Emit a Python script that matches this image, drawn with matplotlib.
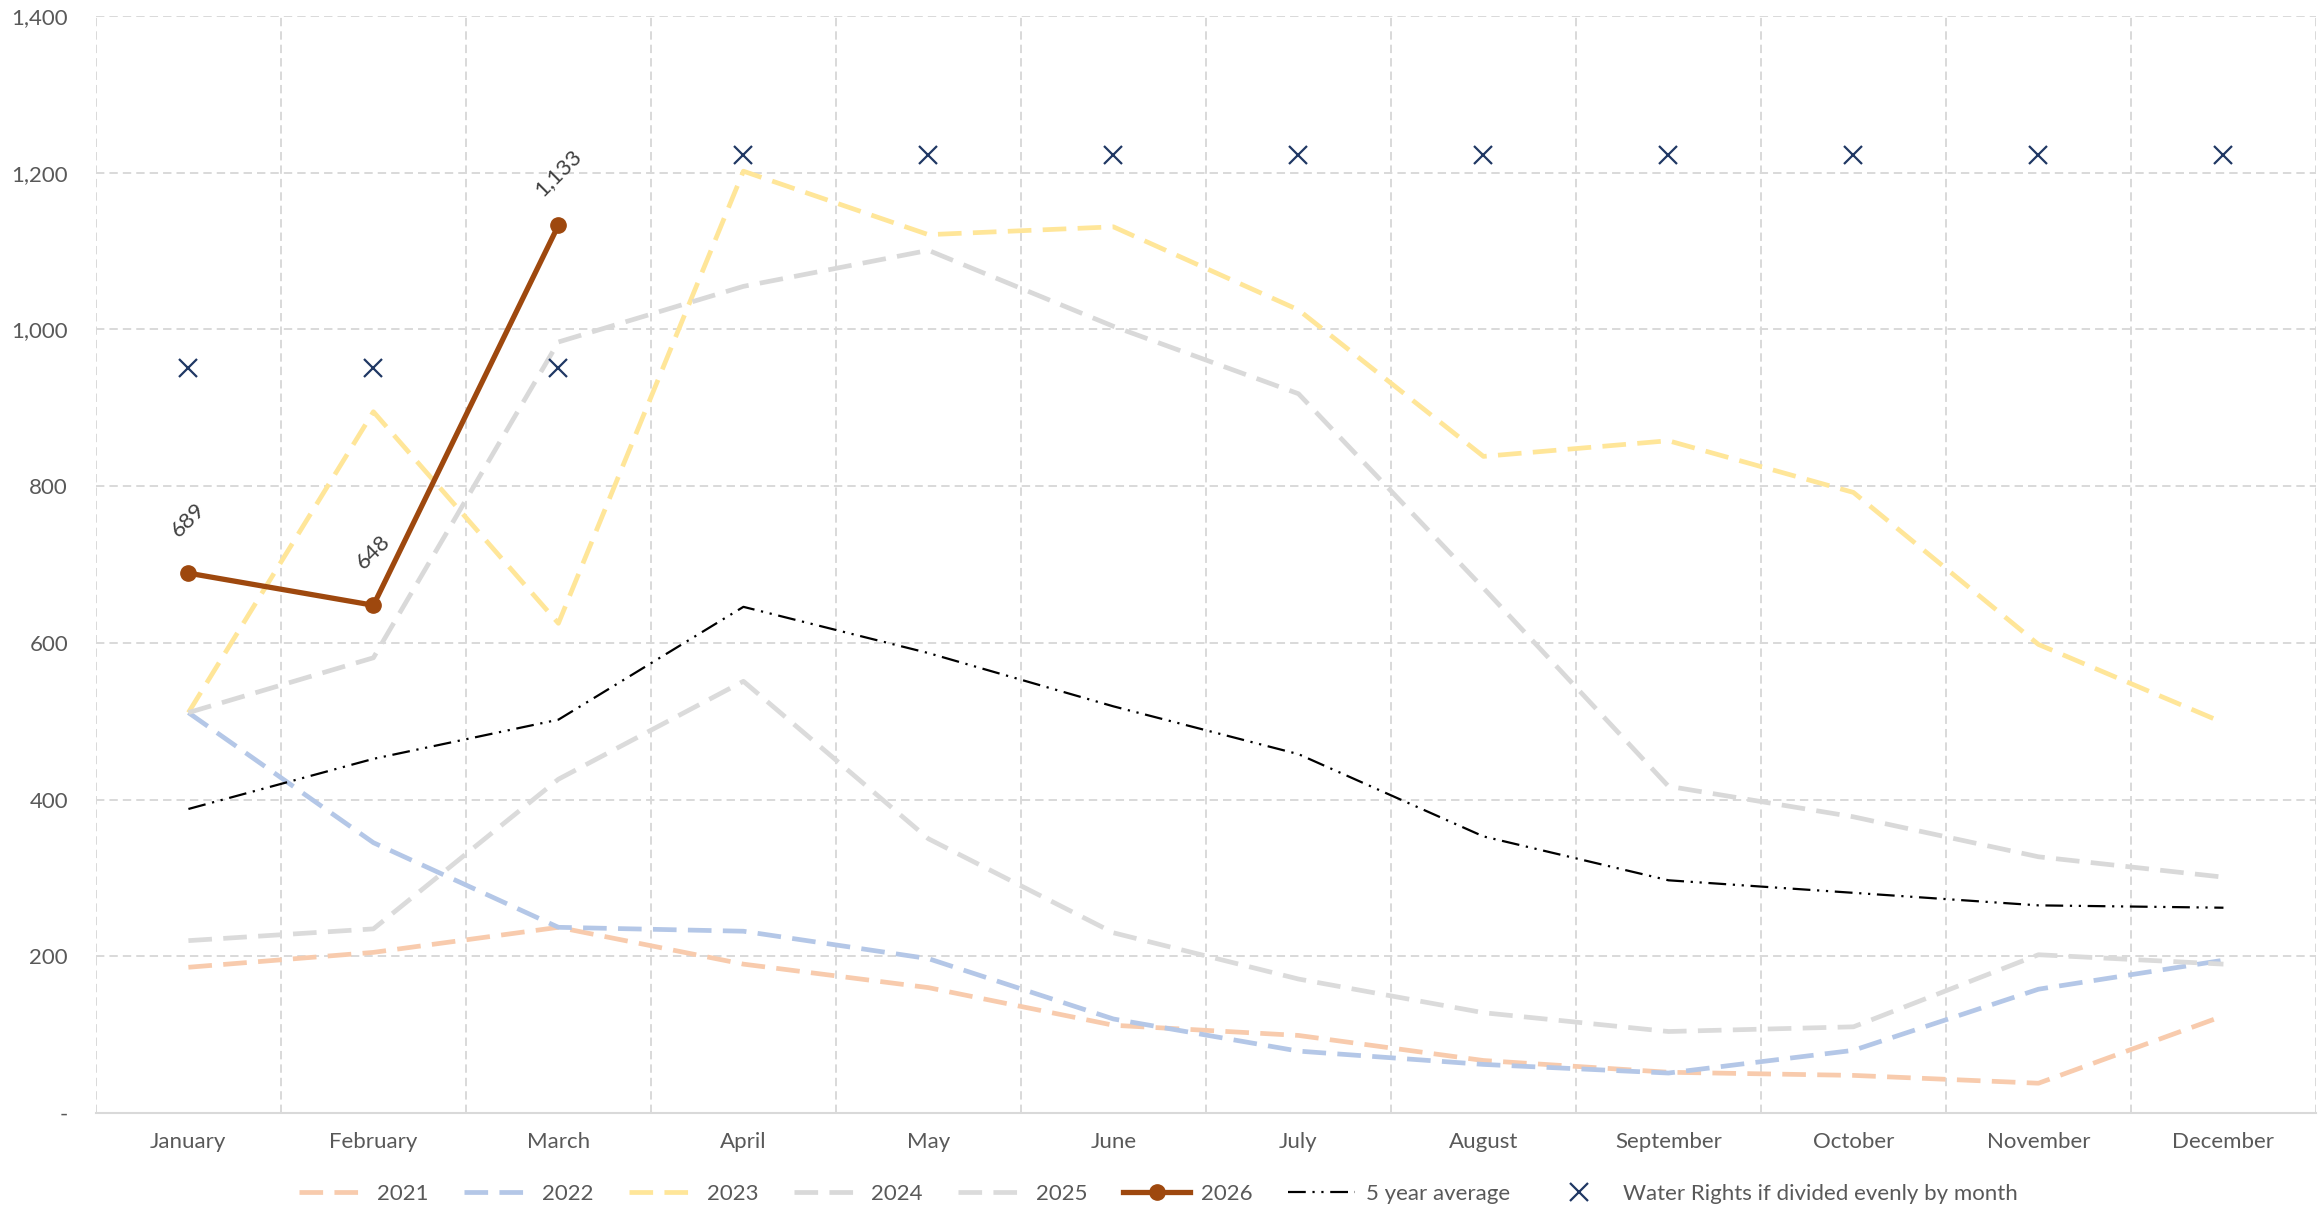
import matplotlib
matplotlib.use("Agg")
import matplotlib.pyplot as plt
from matplotlib.ticker import FuncFormatter
import numpy as np

plt.rcParams["font.family"] = ["Lato", "DejaVu Sans"]

months = ["January", "February", "March", "April", "May", "June", "July",
          "August", "September", "October", "November", "December"]

y2021 = [186, 205, 237, 190, 160, 112, 99, 67, 52, 48, 38, 124]
y2022 = [511, 345, 237, 232, 197, 120, 79, 62, 51, 80, 158, 195]
y2023 = [511, 895, 625, 1202, 1121, 1131, 1025, 838, 858, 792, 598, 498]
y2024 = [511, 581, 984, 1055, 1101, 1004, 918, 670, 417, 378, 327, 301]
y2025 = [220, 235, 426, 551, 350, 230, 171, 128, 104, 110, 202, 190]
y2026 = [689, 648, 1133]
avg5 = [388, 452, 502, 646, 587, 519, 458, 353, 297, 281, 265, 262]
water_rights = [951, 951, 951, 1223, 1223, 1223, 1223, 1223, 1223, 1223, 1223, 1223]

text_col = "#595959"
grid_col = "#D9D9D9"
dash = (0, (5, 2.4))
fs = 16

fig = plt.figure(figsize=(23.22, 12.16), dpi=100)
ax = fig.add_axes([0.0413, 0.0847, 0.9561, 0.9021])

x = np.arange(len(months))

ax.plot(x, y2021, color="#F8CBAD", lw=3.4, ls=dash, label="2021", zorder=2)
ax.plot(x, y2022, color="#B4C7E7", lw=3.4, ls=dash, label="2022", zorder=2)
ax.plot(x, y2023, color="#FFE699", lw=3.4, ls=dash, label="2023", zorder=2)
ax.plot(x, y2024, color="#D9D9D9", lw=3.4, ls=dash, label="2024", zorder=2)
ax.plot(x, y2025, color="#DBDBDB", lw=3.4, ls=dash, label="2025", zorder=2)
x26 = x[:len(y2026)]
ax.plot(x26, y2026, color="#9E480E", lw=3.8, marker="o", ms=11,
        label="2026", zorder=4)
ax.plot(x, avg5, color="black", lw=1.6, ls=(0, (8, 3, 1, 3, 1, 3)),
        label="5 year average", zorder=3)
ax.plot(x, water_rights, ls="none", marker="x", ms=13, mew=1.6,
        color="#203864", label="Water Rights if divided evenly by month", zorder=5)

for xi, v in zip(x26, y2026):
    ax.annotate(f"{v:,}", (xi, v), xytext=(0, 38), textcoords="offset points",
                ha="center", va="center", rotation=45, fontsize=fs,
                color="#404040")

ax.set_xlim(-0.5, 11.5)
ax.set_ylim(0, 1400)
ax.set_yticks(range(0, 1401, 200))
ax.yaxis.set_major_formatter(FuncFormatter(lambda v, p: "-" if v == 0 else f"{v:,.0f}"))
ax.set_xticks(x)
ax.set_xticklabels(months)
ax.set_xticks(np.arange(-0.5, 12, 1), minor=True)

ax.tick_params(axis="both", which="both", length=0, labelsize=fs, colors=text_col)
ax.tick_params(axis="y", pad=20)
ax.tick_params(axis="x", pad=14)

gstyle = dict(color=grid_col, lw=1.4, ls=(0, (4.3, 2.6)))
ax.grid(axis="y", which="major", **gstyle)
ax.grid(axis="x", which="minor", **gstyle)
ax.grid(axis="x", which="major", visible=False)
ax.set_axisbelow(True)

for s in ["top", "right", "left"]:
    ax.spines[s].set_visible(False)
ax.spines["bottom"].set_color(grid_col)
ax.spines["bottom"].set_linewidth(1.5)

fig.legend(loc="center", bbox_to_anchor=(0.499, 1 - 1194 / 1216), ncol=8,
           frameon=False, fontsize=fs, handlelength=3.0, columnspacing=1.6,
           handletextpad=0.5, labelcolor=text_col)

fig.savefig("out.png", dpi=100)
